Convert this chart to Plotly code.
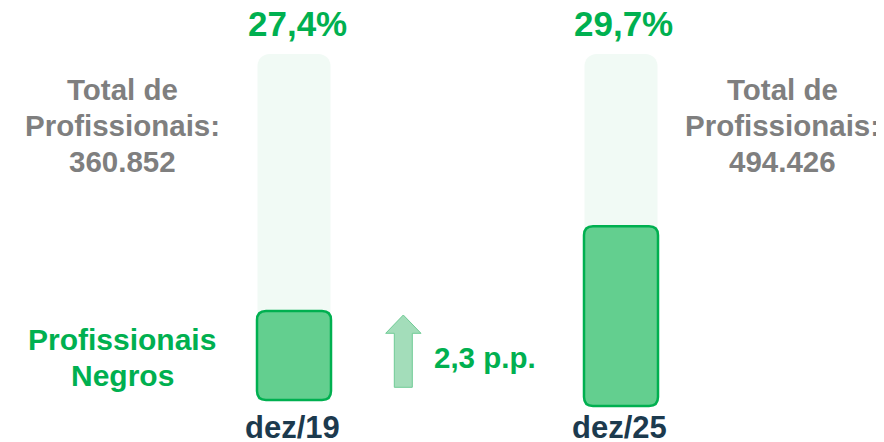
import plotly.graph_objects as go

# ---------------- data ----------------
periods = ["dez/19", "dez/25"]
pct_negros = [27.4, 29.7]                 # % de profissionais negros
total_profissionais = [360852, 494426]    # total de profissionais
bar_total = [100, 100]                    # fundo (total)
bar_negros = [25.7, 50.2]                 # altura relativa da barra verde

# ---------------- layout helpers ----------------
OFF = 8                      # page margin offset of the rendered figure
W, H = 884 - OFF, 442 - OFF
X_POS = [0, 1]
XPPU = 327.0                 # pixels per x unit
YPPU = 3.46                  # pixels per y unit
X0PX, Y0PX = 294 - OFF, 400 - OFF
XR = [-X0PX / XPPU, (W - X0PX) / XPPU]
YR = [-(H - Y0PX) / YPPU, Y0PX / YPPU]
PX_X = 1 / XPPU
PX_Y = 1 / YPPU
GREEN = "#00B050"
GRAY = "#7F7F7F"
NAVY = "#1C3A4E"
FONT = "Liberation Sans, Arial, sans-serif"


def fmt_pct(v):
    return f"{v:.1f}".replace(".", ",") + "%"


def fmt_int(v):
    return f"{v:,}".replace(",", ".")


def rrect_path(x0, x1, y0, y1, rpx):
    rx, ry = rpx * PX_X, rpx * PX_Y
    return (f"M {x0+rx},{y0} L {x1-rx},{y0} Q {x1},{y0} {x1},{y0+ry} "
            f"L {x1},{y1-ry} Q {x1},{y1} {x1-rx},{y1} L {x0+rx},{y1} "
            f"Q {x0},{y1} {x0},{y1-ry} L {x0},{y0+ry} Q {x0},{y0} {x0+rx},{y0} Z")


def py(px):  # window pixel row -> paper y
    return 1 - (px - OFF) / H


def pxx(px):  # window pixel column -> paper x
    return (px - OFF) / W


fig = go.Figure()

# background (total) bars
fig.add_trace(go.Bar(
    x=X_POS, y=bar_total, width=73 * PX_X,
    marker=dict(color="#F1FAF5", line=dict(width=0), cornerradius=12),
    hoverinfo="skip", showlegend=False,
))

shapes = []
base_offsets = [0, -1.7]
for i, xc in enumerate(X_POS):
    half = 37 * PX_X
    y0 = base_offsets[i]
    y1 = bar_negros[i]
    shapes.append(dict(
        type="path", xref="x", yref="y",
        path=rrect_path(xc - half, xc + half, y0, y1, 9),
        fillcolor="#63CF8F", line=dict(color=GREEN, width=2.5), layer="above",
    ))

# arrow (decorative)
ax = [403.3, 421, 412.3, 412.3, 394.3, 394.3, 385.7]
ay = [315, 333.3, 333.3, 387.3, 387.3, 333.3, 333.3]
apath = "M " + " L ".join(f"{pxx(a)},{py(b)}" for a, b in zip(ax, ay)) + " Z"
shapes.append(dict(type="path", xref="paper", yref="paper", path=apath,
                   fillcolor="#A3DDBA", line=dict(color="#6FCB95", width=1)))

annotations = []


def label(text, xpx, ypx, size, color, xanchor="center"):
    annotations.append(dict(
        x=pxx(xpx), y=py(ypx), xref="paper", yref="paper", text=f"<b>{text}</b>",
        showarrow=False, xanchor=xanchor, yanchor="middle",
        font=dict(family=FONT, size=size, color=color)))


pct_cx = [297, 623]
per_cx = [292, 619]
for i in range(2):
    label(fmt_pct(pct_negros[i]), pct_cx[i], 24, 35, GREEN)
    label(periods[i], per_cx[i], 427, 31, NAVY)

side_x = [122, 782]
for i in range(2):
    label("Total de", side_x[i], 89, 29.5, GRAY)
    label("Profissionais:", side_x[i], 125, 29.5, GRAY)
    label(fmt_int(total_profissionais[i]), side_x[i], 161, 29.5, GRAY)

label("Profissionais", 122, 339, 30, GREEN)
label("Negros", 122, 375, 30, GREEN)

diff = pct_negros[1] - pct_negros[0]
label(f"{diff:.1f}".replace(".", ",") + " p.p.", 432, 357, 29.5, GREEN, xanchor="left")

fig.update_layout(
    width=W, height=H, margin=dict(l=0, r=0, t=0, b=0),
    paper_bgcolor="white", plot_bgcolor="white",
    xaxis=dict(range=XR, visible=False, fixedrange=True),
    yaxis=dict(range=YR, visible=False, fixedrange=True),
    shapes=shapes, annotations=annotations,
    barmode="overlay", hovermode=False, showlegend=False,
)

fig.write_html("out.html")
